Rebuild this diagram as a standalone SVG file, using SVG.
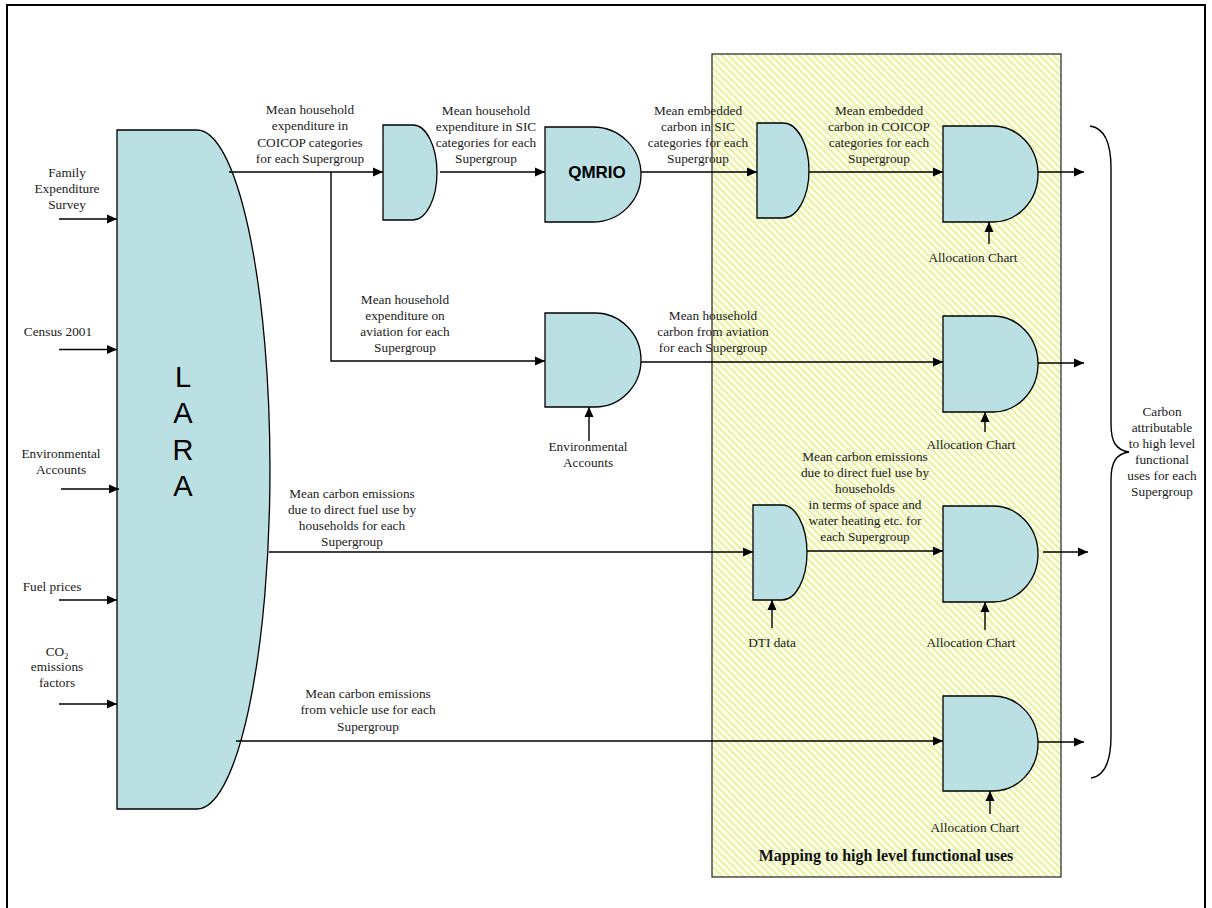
<svg xmlns="http://www.w3.org/2000/svg" width="1212" height="908" viewBox="0 0 1212 908">
<style>
.t{font-family:"Liberation Serif","Times New Roman",serif;font-size:13.3px;fill:#1a1a1a;text-anchor:middle}
.n{fill:#bae0e3;stroke:#000;stroke-width:1.3}
.c{fill:none;stroke:#000;stroke-width:1.4}
.a{marker-end:url(#ah)}
</style>
<defs>
<marker id="ah" markerUnits="userSpaceOnUse" markerWidth="10" markerHeight="10" refX="10" refY="5" orient="auto" viewBox="0 0 10 10">
<path d="M0,0.5 L10,5 L0,9.5 z" fill="#000"/>
</marker>
<pattern id="hatch" patternUnits="userSpaceOnUse" width="5" height="5" patternTransform="rotate(-45)">
<rect width="5" height="5" fill="#fdfeee"/>
<rect width="2" height="5" fill="#e7f19f"/>
</pattern>
</defs>
<rect x="7" y="5" width="1198" height="912" fill="#fff" stroke="#000" stroke-width="2"/>

<g id="mapping-box">
<rect x="712" y="54" width="349" height="823" fill="url(#hatch)" stroke="#333" stroke-width="1.3"/>
<text x="886" y="861" style="font-family:'Liberation Serif','Times New Roman',serif;font-size:16px;font-weight:bold;fill:#111;text-anchor:middle">Mapping to high level functional uses</text>
</g>

<g id="lara">
<path class="n" d="M117,130 H197 A73,339.5 0 0 1 197,809 H117 Z"/>
<g style="font-family:'Liberation Sans',Arial,sans-serif;font-size:29px;fill:#000;text-anchor:middle">
<text x="183" y="387">L</text>
<text x="183" y="423">A</text>
<text x="183" y="460">R</text>
<text x="183" y="496">A</text>
</g>
</g>

<g id="inputs">
<text class="t"><tspan x="67" y="177">Family</tspan><tspan x="67" y="193">Expenditure</tspan><tspan x="67" y="209">Survey</tspan></text>
<text class="t" x="58" y="336">Census 2001</text>
<text class="t"><tspan x="61" y="458">Environmental</tspan><tspan x="61" y="474">Accounts</tspan></text>
<text class="t" x="52" y="591">Fuel prices</text>
<text class="t"><tspan x="57" y="656">CO<tspan font-size="8" dy="3">2</tspan></tspan><tspan x="57" y="671">emissions</tspan><tspan x="57" y="687">factors</tspan></text>
</g>

<g id="split1">
<path class="n" d="M383,125 H413 A24,47.5 0 0 1 413,220 H383 Z"/>
</g>
<g id="qmrio">
<path class="n" d="M545,127 H593 A48,47.5 0 0 1 593,222 H545 Z"/>
<text x="597" y="178" style="font-family:'Liberation Sans',Arial,sans-serif;font-size:17px;font-weight:bold;fill:#000;text-anchor:middle">QMRIO</text>
</g>
<g id="split2">
<path class="n" d="M757,123 H783 A26,47.5 0 0 1 783,218 H757 Z"/>
</g>
<g id="aviation">
<path class="n" d="M545,313 H595 A46,47 0 0 1 595,407 H545 Z"/>
<text class="t"><tspan x="588" y="451">Environmental</tspan><tspan x="588" y="467">Accounts</tspan></text>
</g>
<g id="dti">
<path class="n" d="M753,505 H782 A25,47.5 0 0 1 782,600 H753 Z"/>
<text class="t" x="772" y="647">DTI data</text>
</g>
<g id="alloc1">
<path class="n" d="M943,126 H993 A45,48 0 0 1 993,222 H943 Z"/>
<text class="t" x="973" y="262">Allocation Chart</text>
</g>
<g id="alloc2">
<path class="n" d="M943,316 H993 A45,48 0 0 1 993,412 H943 Z"/>
<text class="t" x="971" y="449">Allocation Chart</text>
</g>
<g id="alloc3">
<path class="n" d="M943,506 H993 A45,48 0 0 1 993,602 H943 Z"/>
<text class="t" x="971" y="647">Allocation Chart</text>
</g>
<g id="alloc4">
<path class="n" d="M943,696 H993 A45,47.5 0 0 1 993,791 H943 Z"/>
<text class="t" x="975" y="832">Allocation Chart</text>
</g>

<g id="result">
<path class="c" d="M1090,126 C1104,128 1111,142 1111,168 V424 C1111,442 1116,450 1129,452 C1116,454 1111,462 1111,480 V736 C1111,762 1104,776 1091,778"/>
<text class="t"><tspan x="1162" y="416">Carbon</tspan><tspan x="1162" y="432">attributable</tspan><tspan x="1162" y="448">to high level</tspan><tspan x="1162" y="464">functional</tspan><tspan x="1162" y="480">uses for each</tspan><tspan x="1162" y="496">Supergroup</tspan></text>
</g>

<g id="connectors">
<path class="c a" d="M59,219 H117"/>
<path class="c a" d="M59,349.5 H117"/>
<path class="c a" d="M61,489 H119"/>
<path class="c a" d="M59,600 H117"/>
<path class="c a" d="M59,704 H117"/>

<path class="c a" d="M229,172 H383"/>
<path class="c a" d="M331,172 V361 H545"/>
<path class="c a" d="M440,172 H545"/>
<path class="c a" d="M641,172 H757"/>
<path class="c a" d="M809,172 H943"/>
<path class="c a" d="M1038,172 H1084"/>

<path class="c a" d="M641,362 H943"/>
<path class="c a" d="M1038,363 H1084"/>
<path class="c a" d="M589,441 V407"/>

<path class="c a" d="M269,552 H753"/>
<path class="c a" d="M807,551 H943"/>
<path class="c a" d="M1043,552 H1088"/>
<path class="c a" d="M772,628 V600"/>

<path class="c a" d="M236,741 H943"/>
<path class="c a" d="M1038,742 H1084"/>

<path class="c a" d="M989,244 V222"/>
<path class="c a" d="M985,432 V412"/>
<path class="c a" d="M985,630 V602"/>
<path class="c a" d="M990,814 V791"/>
</g>

<g id="labels">
<text class="t"><tspan x="310" y="114">Mean household</tspan><tspan x="310" y="130">expenditure in</tspan><tspan x="310" y="147">COICOP categories</tspan><tspan x="310" y="163">for each Supergroup</tspan></text>
<text class="t"><tspan x="486" y="115">Mean household</tspan><tspan x="486" y="131">expenditure in SIC</tspan><tspan x="486" y="147">categories for each</tspan><tspan x="486" y="163">Supergroup</tspan></text>
<text class="t"><tspan x="698" y="115">Mean embedded</tspan><tspan x="698" y="131">carbon in SIC</tspan><tspan x="698" y="147">categories for each</tspan><tspan x="698" y="163">Supergroup</tspan></text>
<text class="t"><tspan x="879" y="115">Mean embedded</tspan><tspan x="879" y="131">carbon in COICOP</tspan><tspan x="879" y="147">categories for each</tspan><tspan x="879" y="163">Supergroup</tspan></text>
<text class="t"><tspan x="405" y="304">Mean household</tspan><tspan x="405" y="320">expenditure on</tspan><tspan x="405" y="336">aviation for each</tspan><tspan x="405" y="352">Supergroup</tspan></text>
<text class="t"><tspan x="713" y="320">Mean household</tspan><tspan x="713" y="336">carbon from aviation</tspan><tspan x="713" y="352">for each Supergroup</tspan></text>
<text class="t"><tspan x="352" y="498">Mean carbon emissions</tspan><tspan x="352" y="514">due to direct fuel use by</tspan><tspan x="352" y="530">households for each</tspan><tspan x="352" y="546">Supergroup</tspan></text>
<text class="t"><tspan x="865" y="461">Mean carbon emissions</tspan><tspan x="865" y="477">due to direct fuel use by</tspan><tspan x="865" y="493">households</tspan><tspan x="865" y="509">in terms of space and</tspan><tspan x="865" y="525">water heating etc. for</tspan><tspan x="865" y="541">each Supergroup</tspan></text>
<text class="t"><tspan x="368" y="698">Mean carbon emissions</tspan><tspan x="368" y="714">from vehicle use for each</tspan><tspan x="368" y="731">Supergroup</tspan></text>
</g>
</svg>
